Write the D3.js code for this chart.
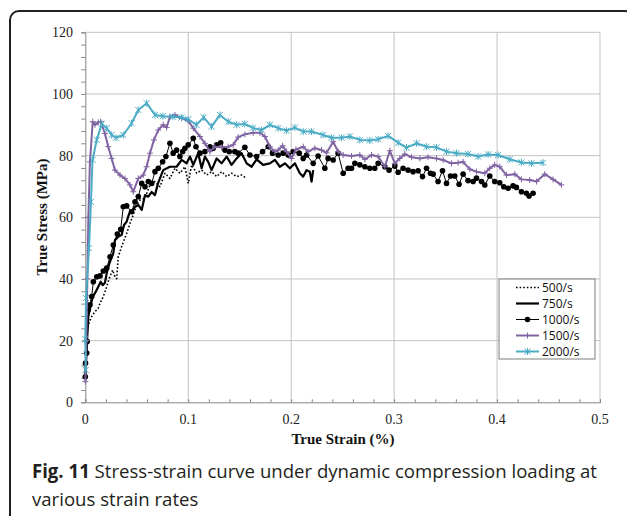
<!DOCTYPE html>
<html>
<head>
<meta charset="utf-8">
<script src="https://cdn.jsdelivr.net/npm/d3@7"></script>
<style>
  body { margin: 0; background: #fff; }
  svg { display: block; }
</style>
</head>
<body>
<svg id="chart" width="627" height="516"></svg>
<script>
// strain (%), stress (MPa)
const rate500 = [
  [0, 8], [0.0019, 23.5], [0.0039, 26.1], [0.0062, 27.8], [0.0094, 29.4], [0.0126, 30.5],
  [0.0143, 32.1], [0.0175, 34.3], [0.0208, 37.5], [0.0233, 40.2], [0.0266, 42.9], [0.0288, 40.7],
  [0.0305, 40.1], [0.032, 47.2], [0.0353, 50.5], [0.0402, 54.8], [0.0434, 58], [0.0466, 60.8],
  [0.0499, 64], [0.0531, 65.6], [0.058, 66.2], [0.0628, 70.5], [0.0677, 71.6], [0.0725, 69.9],
  [0.0774, 74.3], [0.0822, 72.6], [0.0871, 75.9], [0.0919, 74.3], [0.0968, 76.4], [0.1, 71],
  [0.1033, 77], [0.1082, 74.3], [0.113, 75.3], [0.1179, 73.7], [0.1227, 74.8], [0.1276, 73.2],
  [0.1324, 74.8], [0.1373, 73.2], [0.1421, 74.3], [0.147, 73.2], [0.1518, 73.7], [0.1567, 72.6]
];

const rate750 = [
  [0, 8], [0.0019, 21.3], [0.0029, 27.8], [0.0046, 30.5], [0.0072, 34.3], [0.0094, 35.4],
  [0.0126, 37.5], [0.015, 39.1], [0.0169, 38], [0.0191, 38.8], [0.0214, 42.9], [0.024, 45.6],
  [0.0272, 48.3], [0.0288, 52.6], [0.032, 53.7], [0.0353, 54.3], [0.0376, 57.5], [0.0402, 58.6],
  [0.0427, 61.3], [0.045, 61.8], [0.0483, 63.4], [0.0515, 64], [0.0548, 62.4], [0.058, 67.2],
  [0.0612, 66.7], [0.0645, 68.2], [0.0677, 67.2], [0.0706, 71], [0.0757, 75.3], [0.0822, 76.4],
  [0.0887, 76.4], [0.0936, 78.6], [0.0984, 77.5], [0.1017, 79.7], [0.1049, 77], [0.1097, 80.8],
  [0.113, 75.9], [0.1162, 79.7], [0.1194, 78], [0.1227, 75.3], [0.1276, 79.1], [0.1324, 77.5],
  [0.1373, 79.7], [0.1421, 77], [0.147, 79.1], [0.1518, 80.8], [0.1567, 77.5], [0.1616, 76.4],
  [0.1664, 78.8], [0.1728, 77], [0.1793, 77.5], [0.1842, 78.6], [0.189, 76.4], [0.1939, 77.5],
  [0.1987, 75.9], [0.2036, 77.5], [0.2084, 74.3], [0.2117, 73.2], [0.215, 75.3], [0.2181, 74.8],
  [0.2198, 71.6], [0.2214, 75.3]
];

const rate1000 = [
  [0, 8.3], [0.0002, 12.7], [0.0014, 16], [0.0019, 19.7], [0.0029, 30], [0.0046, 31.6],
  [0.0062, 34.3], [0.0078, 39.1], [0.0111, 40.7], [0.0143, 41], [0.0175, 42.6], [0.0208, 43.5],
  [0.024, 47.2], [0.0272, 51], [0.0311, 54.6], [0.0344, 56.1], [0.0369, 63.4], [0.0402, 63.7],
  [0.045, 61.8], [0.0483, 65], [0.0515, 66.7], [0.0548, 71], [0.058, 69.9], [0.0612, 71.6],
  [0.0645, 71], [0.0677, 74.8], [0.0709, 75.9], [0.0751, 78], [0.0783, 79.7], [0.0822, 84],
  [0.0854, 80.8], [0.0887, 81.8], [0.0919, 79.7], [0.0946, 81.3], [0.0968, 82.4], [0.1, 83.5],
  [0.1049, 85.6], [0.1075, 82.9], [0.1114, 80.8], [0.1162, 81.3], [0.1211, 82.9], [0.1243, 82.4],
  [0.1276, 83.5], [0.1315, 84.2], [0.1356, 81.8], [0.1398, 81.3], [0.1453, 81.3], [0.1485, 80.8],
  [0.155, 82.7], [0.1599, 80.2], [0.1664, 79.7], [0.1722, 81.3], [0.1777, 82.9], [0.1819, 80.8],
  [0.1874, 80.2], [0.1922, 80.8], [0.1971, 80.2], [0.2019, 81.3], [0.2078, 80.8], [0.2117, 79.1],
  [0.215, 80.2], [0.2214, 77.5], [0.2262, 79.9], [0.2327, 75.9], [0.2359, 79.1], [0.2408, 78.6],
  [0.2456, 80.8], [0.2505, 74.3], [0.2553, 75.9], [0.2586, 75.9], [0.2619, 77.5], [0.2667, 77],
  [0.2716, 76.4], [0.2764, 75.9], [0.2812, 75.9], [0.2845, 77.5], [0.291, 76.4], [0.2951, 75.3],
  [0.3007, 76.6], [0.3039, 74.6], [0.3087, 75.9], [0.3136, 75.3], [0.3184, 74.8], [0.3233, 75.1],
  [0.3276, 73.2], [0.3315, 75.9], [0.3353, 74.3], [0.3379, 74], [0.3427, 71.6], [0.347, 75.1],
  [0.3509, 71], [0.3548, 73.4], [0.3589, 73.4], [0.3631, 70.7], [0.367, 74], [0.3718, 71.9],
  [0.3767, 71.6], [0.38, 72.7], [0.3849, 71.6], [0.3881, 70.5], [0.3929, 73.4], [0.3977, 71.6],
  [0.4026, 71.2], [0.4065, 69.9], [0.4107, 69.4], [0.4155, 70.2], [0.4188, 69.7], [0.4237, 68.3],
  [0.4285, 67.8], [0.4311, 66.9], [0.435, 67.8]
];

const rate1500 = [
  [0, 6.7], [0.001, 20], [0.002, 40], [0.003, 60], [0.0045, 78], [0.0072, 91], [0.0094, 90],
  [0.0126, 90.8], [0.015, 91], [0.0191, 87.2], [0.0223, 82.9], [0.0256, 79.1], [0.0288, 75.3],
  [0.0337, 73.7], [0.0385, 72.6], [0.0434, 70.5], [0.0466, 68.3], [0.0515, 72.6], [0.0563, 73.7],
  [0.0596, 76.4], [0.0628, 80.8], [0.0667, 85.1], [0.0709, 88.3], [0.0757, 90], [0.079, 89.1],
  [0.0822, 92.6], [0.0871, 93.2], [0.0936, 92.1], [0.1, 91.3], [0.1049, 88.9], [0.1114, 86.2],
  [0.1162, 84], [0.1211, 81.3], [0.1259, 82.9], [0.1324, 82.7], [0.1388, 82.9], [0.1437, 83.5],
  [0.1485, 86], [0.155, 86.9], [0.1631, 87.4], [0.1696, 87.4], [0.1745, 86.2], [0.1793, 82.9],
  [0.1842, 81.3], [0.1874, 81.8], [0.1917, 83.2], [0.1955, 81.3], [0.2004, 79.1], [0.2046, 82],
  [0.2117, 82.9], [0.2165, 81.3], [0.223, 82.4], [0.2295, 81.8], [0.2344, 80.9], [0.2408, 84.5],
  [0.2456, 81.3], [0.2505, 80.2], [0.2586, 79.9], [0.2667, 80.2], [0.2716, 78.8], [0.2781, 80.2],
  [0.2845, 79.7], [0.291, 76.4], [0.2958, 81.6], [0.3007, 77.5], [0.3055, 79.1], [0.3104, 80.5],
  [0.3169, 79.5], [0.325, 79.1], [0.333, 79.5], [0.3412, 79.1], [0.3476, 78.6], [0.3557, 77.5],
  [0.3621, 77.7], [0.367, 78], [0.3735, 75.6], [0.38, 74.8], [0.3881, 74.3], [0.3929, 75.9],
  [0.3977, 77], [0.4026, 76.4], [0.4091, 73.7], [0.4172, 74], [0.4237, 72.3], [0.4317, 72.1],
  [0.4383, 71.6], [0.4463, 74], [0.4544, 72.3], [0.4625, 70.5]
];

const rate2000 = [
  [0.0004, 10.5], [0, 20.5], [0.0007, 33.8], [0.0036, 50], [0.0055, 65], [0.007, 78.6],
  [0.0111, 85.1], [0.016, 90.3], [0.0208, 88.9], [0.0256, 86.7], [0.0298, 85.8], [0.0369, 86.7],
  [0.045, 90.5], [0.0515, 94.8], [0.0596, 97], [0.0677, 93.2], [0.0754, 92.8], [0.0851, 92.6],
  [0.0936, 92.4], [0.1, 91.8], [0.108, 90], [0.115, 92.4], [0.1227, 89.4], [0.1308, 93.2],
  [0.1388, 91], [0.147, 90], [0.155, 90.3], [0.1628, 89], [0.1713, 88.3], [0.1793, 90],
  [0.1874, 88.9], [0.1955, 88.1], [0.2036, 89.1], [0.2117, 87.8], [0.2198, 87.8], [0.231, 86.7],
  [0.2392, 85.8], [0.249, 85.8], [0.257, 86.2], [0.2667, 85.1], [0.2764, 84.9], [0.2845, 85.3],
  [0.2942, 86.4], [0.3039, 84.2], [0.312, 82.6], [0.3217, 84], [0.3315, 82.9], [0.3412, 82.7],
  [0.3509, 81.3], [0.3606, 80.8], [0.3718, 80.5], [0.3816, 79.7], [0.3913, 80.4], [0.401, 80.2],
  [0.4123, 78.8], [0.4237, 77.8], [0.4334, 77.5], [0.4447, 77.7]
];

const seriesNames = ['500/s', '750/s', '1000/s', '1500/s', '2000/s'];
const xTicks = [0, 0.1, 0.2, 0.3, 0.4, 0.5];
const yTicks = [0, 20, 40, 60, 80, 100, 120];

const svg = d3.select('#chart');
const serif = '"Liberation Serif", "Times New Roman", serif';

// frame around the figure
svg.append('rect')
  .attr('x', 10).attr('y', 11)
  .attr('width', 624).attr('height', 540)
  .attr('rx', 9)
  .attr('fill', 'none')
  .attr('stroke', '#231f20')
  .attr('stroke-width', 2);

let x = d3.scaleLinear().domain([0, 0.5]).range([85.3, 600]);
let y = d3.scaleLinear().domain([0, 120]).range([402.3, 32.3]);

let g = svg.append('g');

// gridlines
g.selectAll('.gy').data(yTicks.slice(1)).enter().append('line')
  .attr('x1', x(0)).attr('x2', x(0.5))
  .attr('y1', d => y(d)).attr('y2', d => y(d))
  .attr('stroke', '#c3c3c3').attr('stroke-width', 1);
g.selectAll('.gx').data(xTicks.slice(1)).enter().append('line')
  .attr('x1', d => x(d)).attr('x2', d => x(d))
  .attr('y1', y(0)).attr('y2', y(120))
  .attr('stroke', '#c3c3c3').attr('stroke-width', 1);

// y axis, minor ticks every 4
let yAxis = d3.axisLeft(y).tickValues(d3.range(0, 121, 4)).tickSize(4).tickFormat('');
let yg = g.append('g').attr('transform', `translate(${x(0)},0)`).call(yAxis);
yg.selectAll('path,line').attr('stroke', '#868686');
g.selectAll('.ylab').data(yTicks).enter().append('text')
  .attr('x', 73).attr('y', d => y(d)).attr('dy', '0.35em')
  .attr('text-anchor', 'end')
  .style('font-family', serif).style('font-size', '14px').attr('fill', '#222')
  .text(d => d);

// x axis, minor ticks every 0.02 pointing inward
let xAxis = d3.axisBottom(x).tickValues(d3.range(0, 0.5001, 0.02)).tickSize(-3).tickFormat('');
let xg = g.append('g').attr('transform', `translate(0,${y(0)})`).call(xAxis);
xg.selectAll('path,line').attr('stroke', '#868686');
g.selectAll('.xlab').data(xTicks).enter().append('text')
  .attr('x', d => x(d)).attr('y', 424)
  .attr('text-anchor', 'middle')
  .style('font-family', serif).style('font-size', '14px').attr('fill', '#222')
  .text(d => d);

// axis titles
svg.append('text')
  .attr('transform', 'translate(47,217) rotate(-90)')
  .attr('text-anchor', 'middle')
  .style('font-family', serif).style('font-size', '15px').style('font-weight', 'bold')
  .attr('fill', '#111')
  .text('True Stress (MPa)');
svg.append('text')
  .attr('x', 343).attr('y', 444)
  .attr('text-anchor', 'middle')
  .style('font-family', serif).style('font-size', '15px').style('font-weight', 'bold')
  .attr('fill', '#111')
  .text('True Strain (%)');

let line = d3.line().x(d => x(d[0])).y(d => y(d[1]));

const styles = [
  {data: rate500, color: '#000', width: 1.6, dash: '1.6,2', marker: null},
  {data: rate750, color: '#000', width: 2.2, dash: null, marker: null},
  {data: rate1000, color: '#000', width: 1, dash: null, marker: 'dot'},
  {data: rate1500, color: '#8064a2', width: 2, dash: null, marker: 'plus'},
  {data: rate2000, color: '#4bacc6', width: 2, dash: null, marker: 'star'}
];

const markerPath = {
  plus: 'M-3,0H3M0,-3V3',
  star: 'M-3,-3L3,3M-3,3L3,-3M0,-3.5V3.5'
};

let drawMarker = function(sel, s) {
  if (s.marker === 'dot') {
    sel.append('circle').attr('r', 2.8).attr('fill', s.color);
  } else if (s.marker) {
    sel.append('path').attr('d', markerPath[s.marker])
      .attr('stroke', s.color).attr('stroke-width', 1).attr('fill', 'none');
  }
};

styles.forEach(function(s) {
  g.append('path')
    .datum(s.data)
    .attr('d', line)
    .attr('fill', 'none')
    .attr('stroke', s.color)
    .attr('stroke-width', s.width)
    .attr('stroke-linejoin', 'round')
    .attr('stroke-dasharray', s.dash);
  if (s.marker) {
    let m = g.append('g').selectAll('g').data(s.data).enter().append('g')
      .attr('transform', d => `translate(${x(d[0])},${y(d[1])})`);
    drawMarker(m, s);
  }
});

// legend
let lg = svg.append('g').attr('transform', 'translate(499,279)');
lg.append('rect').attr('width', 96).attr('height', 80)
  .attr('fill', '#fff').attr('stroke', '#7f7f7f').attr('stroke-width', 1);
styles.forEach(function(s, i) {
  let row = lg.append('g').attr('transform', `translate(0,${8.5 + i * 16})`);
  row.append('line').attr('x1', 17).attr('x2', 40)
    .attr('stroke', s.color).attr('stroke-width', s.width)
    .attr('stroke-dasharray', s.dash);
  let m = row.append('g').attr('transform', 'translate(28.5,0)');
  drawMarker(m, s);
  row.append('text').attr('x', 43).attr('dy', '0.35em')
    .style('font-family', '"Open Sans", sans-serif').style('font-size', '12px')
    .attr('fill', '#111')
    .text(seriesNames[i]);
});

// caption
const sans = '"Open Sans", "Noto Sans", sans-serif';
let cap1 = svg.append('text').attr('x', 32).attr('y', 478)
  .style('font-family', sans).style('font-size', '19px').attr('fill', '#231f20');
cap1.append('tspan').style('font-weight', 'bold').text('Fig. 11');
cap1.append('tspan').text(' Stress-strain curve under dynamic compression loading at');
let cap2 = svg.append('text').attr('x', 32).attr('y', 506)
  .style('font-family', sans).style('font-size', '19px').attr('fill', '#231f20')
  .text('various strain rates');

// squeeze caption to the narrower original face
let w1 = cap1.node().getComputedTextLength();
let k = 565 / w1;
cap1.attr('textLength', 565).attr('lengthAdjust', 'spacingAndGlyphs');
cap2.attr('textLength', cap2.node().getComputedTextLength() * k).attr('lengthAdjust', 'spacingAndGlyphs');
</script>
</body>
</html>
